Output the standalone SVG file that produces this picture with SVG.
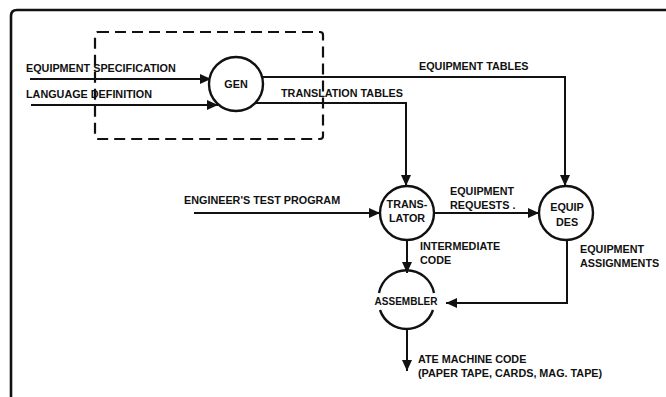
<svg xmlns="http://www.w3.org/2000/svg" width="666" height="397" viewBox="0 0 666 397">
<style>
text{font-family:"Liberation Sans",Arial,sans-serif;font-weight:bold;font-size:10.8px;fill:#111}
.c{text-anchor:middle}
.node{fill:#fff;stroke:#111;stroke-width:2.4}
.ln{fill:none;stroke:#111;stroke-width:2}
.frame{fill:none;stroke:#111;stroke-width:2.6}
.dash{fill:none;stroke:#111;stroke-width:2.2;stroke-dasharray:11 6}
</style>
<defs>
<marker id="ah" markerUnits="userSpaceOnUse" markerWidth="11" markerHeight="10" refX="11" refY="5" orient="auto">
<path d="M0,0 L11,5 L0,10 z" fill="#111"/>
</marker>
</defs>
<rect width="666" height="397" fill="#fff"/>
<path class="frame" d="M11,397 V16 Q11,10 17,10 H666"/>
<g id="boundary">
<rect class="dash" x="95" y="32" width="228" height="107" rx="3"/>
</g>
<g id="connectors">
<path class="ln" d="M30,79 H211" marker-end="url(#ah)"/>
<path class="ln" d="M31,105 H218" marker-end="url(#ah)"/>
<path class="ln" d="M262,77 H565 V186" marker-end="url(#ah)"/>
<path class="ln" d="M256,103 H406 V186" marker-end="url(#ah)"/>
<path class="ln" d="M194,213 H380" marker-end="url(#ah)"/>
<path class="ln" d="M434,213 H539" marker-end="url(#ah)"/>
<path class="ln" d="M407,240 V273" marker-end="url(#ah)"/>
<path class="ln" d="M567,240 V303 H446" marker-end="url(#ah)"/>
<path class="ln" d="M407,328 V371" marker-end="url(#ah)"/>
</g>
<g id="labels">
<text x="26" y="72">EQUIPMENT SPECIFICATION</text>
<text x="26" y="98">LANGUAGE DEFINITION</text>
<text x="419" y="70">EQUIPMENT TABLES</text>
<text x="281" y="97">TRANSLATION TABLES</text>
<text x="184" y="204">ENGINEER'S TEST PROGRAM</text>
<text x="450" y="195">EQUIPMENT</text>
<text x="450" y="209">REQUESTS .</text>
<text x="420" y="250">INTERMEDIATE</text>
<text x="420" y="264">CODE</text>
<text x="580" y="253">EQUIPMENT</text>
<text x="580" y="267">ASSIGNMENTS</text>
<text x="418" y="363">ATE MACHINE CODE</text>
<text x="418" y="377">(PAPER TAPE, CARDS, MAG. TAPE)</text>
</g>
<g id="gen">
<circle class="node" cx="236" cy="84" r="27"/>
<text class="c" x="236" y="88">GEN</text>
</g>
<g id="translator">
<circle class="node" cx="407" cy="213" r="27"/>
<text class="c" x="407" y="208">TRANS-</text>
<text class="c" x="407" y="222">LATOR</text>
</g>
<g id="equipdes">
<circle class="node" cx="566" cy="213" r="27"/>
<text class="c" x="567" y="211">EQUIP</text>
<text class="c" x="567" y="226">DES</text>
</g>
<g id="assembler">
<path class="ln" style="stroke-width:2.4" d="M379,293 A28,28 0 0 1 434,293"/>
<path class="ln" style="stroke-width:2.4" d="M380,310 A28,28 0 0 0 433,310"/>
<text class="c" x="406" y="305" style="font-size:10px">ASSEMBLER</text>
</g>
</svg>
